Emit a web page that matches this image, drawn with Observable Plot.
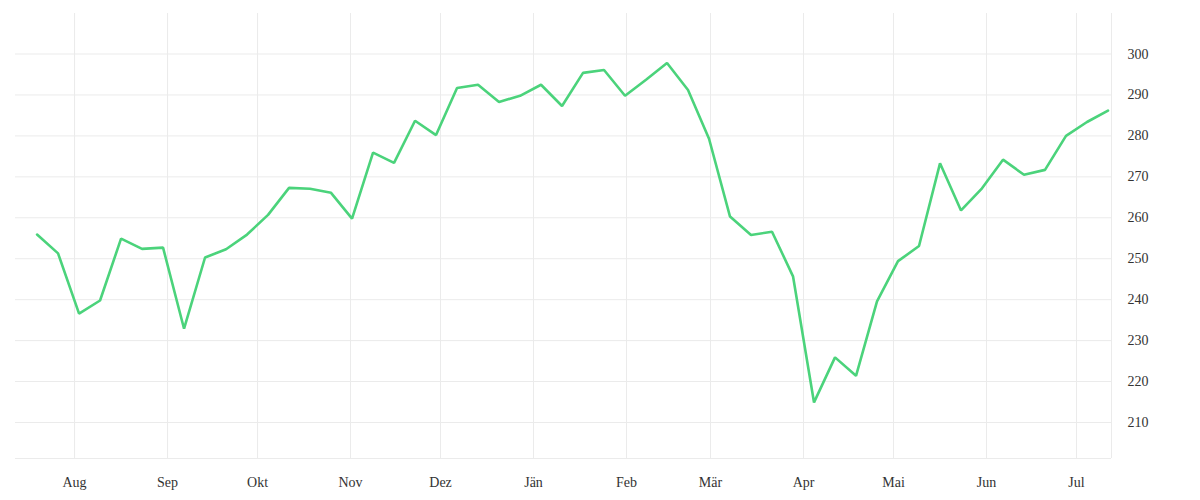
<!DOCTYPE html>
<html>
<head>
<meta charset="utf-8">
<script src="https://cdn.jsdelivr.net/npm/d3@7"></script>
<script src="https://cdn.jsdelivr.net/npm/@observablehq/plot@0.6"></script>
<style>
  html, body { margin: 0; padding: 0; background: #fff; }
</style>
</head>
<body>
<div id="chart"></div>
<script>
const dates = [
  "2024-07-19","2024-07-26","2024-08-02","2024-08-09","2024-08-16","2024-08-23","2024-08-30",
  "2024-09-06","2024-09-13","2024-09-20","2024-09-27","2024-10-04","2024-10-11","2024-10-18",
  "2024-10-25","2024-11-01","2024-11-08","2024-11-15","2024-11-22","2024-11-29","2024-12-06",
  "2024-12-13","2024-12-20","2024-12-27","2025-01-03","2025-01-10","2025-01-17","2025-01-24",
  "2025-01-31","2025-02-07","2025-02-14","2025-02-21","2025-02-28","2025-03-07","2025-03-14",
  "2025-03-21","2025-03-28","2025-04-04","2025-04-11","2025-04-18","2025-04-25","2025-05-02",
  "2025-05-09","2025-05-16","2025-05-23","2025-05-30","2025-06-06","2025-06-13","2025-06-20",
  "2025-06-27","2025-07-04","2025-07-11"
];
const values = [
  255.9, 251.3, 236.6, 239.8, 254.9, 252.4, 252.7,
  232.9, 250.3, 252.3, 255.9, 260.7, 267.3, 267.1,
  266.1, 259.8, 275.9, 273.4, 283.7, 280.2, 291.7,
  292.5, 288.3, 289.8, 292.5, 287.3, 295.4, 296.1,
  289.8, 293.7, 297.8, 291.2, 279.3, 260.3, 255.8,
  256.6, 245.7, 214.9, 225.9, 221.4, 239.6, 249.4,
  253.1, 273.3, 261.8, 267.2, 274.2, 270.5, 271.7,
  280.0, 283.4, 286.2
];
const monthLabels = ["Jän","Feb","Mär","Apr","Mai","Jun","Jul","Aug","Sep","Okt","Nov","Dez"];
const yTicks = [210, 220, 230, 240, 250, 260, 270, 280, 290, 300];
const xDomain = [new Date("2024-07-12T07:30:00Z"), new Date("2025-07-12T16:00:00Z")];
const yDomain = [201.2, 309.9];

const data = dates.map((d, i) => ({date: new Date(d + "T12:00:00Z"), value: values[i]}));
const monthTicks = d3.utcMonth.range(new Date("2024-08-01T00:00:00Z"), new Date("2025-07-02T00:00:00Z"));

const gridColor = "#ebebeb";

const chart = Plot.plot({
  width: 1200,
  height: 500,
  marginLeft: 15,
  marginRight: 89,
  marginTop: 13,
  marginBottom: 42,
  style: {fontFamily: "'Liberation Serif', serif", fontSize: "14px", color: "#333", background: "#fff"},
  x: {type: "utc", domain: xDomain},
  y: {domain: yDomain},
  marks: [
    Plot.gridX(monthTicks, {stroke: gridColor, strokeOpacity: 1}),
    Plot.gridY(yTicks, {stroke: gridColor, strokeOpacity: 1}),
    Plot.ruleY([yDomain[0]], {stroke: gridColor}),
    Plot.ruleX([xDomain[1]], {stroke: gridColor}),
    Plot.axisX(monthTicks, {tickSize: 0, tickPadding: 19, tickFormat: d => monthLabels[d.getUTCMonth()], fill: "#333", fontSize: 14}),
    Plot.axisY(yTicks, {anchor: "right", tickSize: 0, tickPadding: 16, textAnchor: "start", fill: "#333", fontSize: 14, label: null}),
    Plot.line(data, {x: "date", y: "value", stroke: "#4bd37b", strokeWidth: 2.6, strokeLinejoin: "miter"})
  ]
});
document.getElementById("chart").appendChild(chart);
</script>
</body>
</html>
